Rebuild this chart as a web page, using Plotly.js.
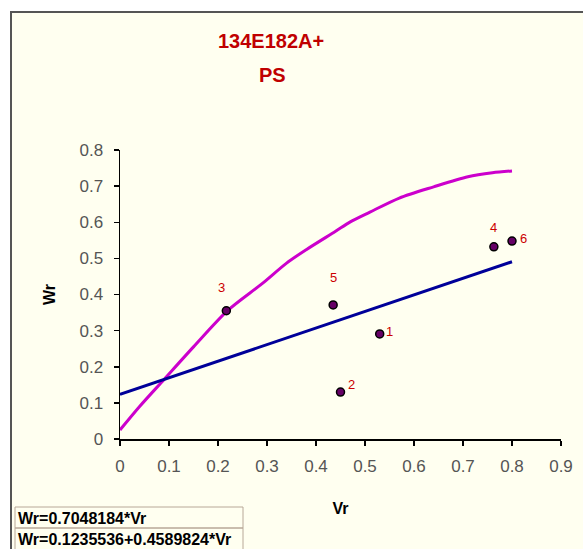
<!DOCTYPE html>
<html>
<head>
<meta charset="utf-8">
<script src="https://cdn.plot.ly/plotly-3.0.1.min.js"></script>
<style>
html,body{margin:0;padding:0;background:#FFFFF0;overflow:hidden;scrollbar-width:none;}
::-webkit-scrollbar{display:none;width:0;height:0;}
#chart{position:absolute;left:0;top:0;width:583px;height:549px;overflow:hidden;}
</style>
</head>
<body>
<div id="chart"></div>
<script>
// Observed points
var pointVr = [0.53, 0.45, 0.217, 0.763, 0.435, 0.80];
var pointWr = [0.291, 0.13, 0.355, 0.532, 0.371, 0.548];
var pointLabels = ["1", "2", "3", "4", "5", "6"];

// Magenta curve
var curveVr = [0, 0.04, 0.09, 0.15, 0.22, 0.29, 0.34, 0.38, 0.44, 0.47, 0.51, 0.57, 0.64, 0.71, 0.76, 0.80];
var curveWr = [0.025, 0.09, 0.165, 0.255, 0.356, 0.43, 0.487, 0.524, 0.575, 0.601, 0.628, 0.667, 0.698, 0.726, 0.737, 0.742];

// Linear fit: Wr = 0.1235536 + 0.4589824*Vr
var fitIntercept = 0.1235536;
var fitSlope = 0.4589824;
var fitVr = [0, 0.8];
var fitWr = fitVr.map(function (v) { return fitIntercept + fitSlope * v; });

var titleLines = ["134E182A+", "PS"];
var equationLines = ["Wr=0.7048184*Vr", "Wr=0.1235536+0.4589824*Vr"];
var xTicks = [0, 0.1, 0.2, 0.3, 0.4, 0.5, 0.6, 0.7, 0.8, 0.9];
var yTicks = [0, 0.1, 0.2, 0.3, 0.4, 0.5, 0.6, 0.7, 0.8];

// label offsets in px (style)
var labelDx = [10, 11, -5, 0, 0, 11];
var labelDy = [2, 8, 23, 19, 27, 3];

var W = 583, H = 549;
var mL = 120, mR = 22, mT = 150, mB = 110;
var pw = W - mL - mR, ph = H - mT - mB;
function px(x) { return (x - mL) / pw; }
function py(y) { return (H - mB - y) / ph; }

var traces = [
  {x: curveVr, y: curveWr, mode: 'lines', line: {color: '#CC00CC', width: 3, shape: 'spline', smoothing: 0.8}, hoverinfo: 'skip', cliponaxis: false},
  {x: fitVr, y: fitWr, mode: 'lines', line: {color: '#000099', width: 3}, hoverinfo: 'skip', cliponaxis: false},
  {x: pointVr, y: pointWr, mode: 'markers', marker: {color: '#660066', size: 8, line: {color: '#000000', width: 1.5}}, cliponaxis: false}
];

var annotations = [];
for (var i = 0; i < pointLabels.length; i++) {
  annotations.push({x: pointVr[i], y: pointWr[i], xref: 'x', yref: 'y', text: pointLabels[i], showarrow: false,
    xshift: labelDx[i], yshift: labelDy[i], font: {family: 'Arial, Liberation Sans', size: 13, color: '#CC0000'}});
}
annotations.push({xref: 'paper', yref: 'paper', x: px(271), y: py(41), text: '<b>' + titleLines[0] + '</b>', showarrow: false,
  xanchor: 'center', yanchor: 'middle', font: {family: 'Arial, Liberation Sans', size: 20, color: '#C00000'}});
annotations.push({xref: 'paper', yref: 'paper', x: px(272), y: py(75), text: '<b>' + titleLines[1] + '</b>', showarrow: false,
  xanchor: 'center', yanchor: 'middle', font: {family: 'Arial, Liberation Sans', size: 20, color: '#C00000'}});
annotations.push({xref: 'paper', yref: 'paper', x: px(16), y: py(518), text: '<b>' + equationLines[0] + '</b>', showarrow: false,
  xanchor: 'left', yanchor: 'middle', font: {family: 'Arial, Liberation Sans', size: 16, color: '#000'}});
annotations.push({xref: 'paper', yref: 'paper', x: px(16), y: py(539), text: '<b>' + equationLines[1] + '</b>', showarrow: false,
  xanchor: 'left', yanchor: 'middle', font: {family: 'Arial, Liberation Sans', size: 16, color: '#000'}});

var shapes = [
  // white strips outside the chart frame
  {type: 'rect', xref: 'paper', yref: 'paper', x0: px(0), x1: px(W), y0: py(11), y1: py(0),
    fillcolor: '#FFFFFF', line: {width: 0}, layer: 'below'},
  {type: 'rect', xref: 'paper', yref: 'paper', x0: px(0), x1: px(10), y0: py(H), y1: py(0),
    fillcolor: '#FFFFFF', line: {width: 0}, layer: 'below'},
  // frame lines (top and left)
  {type: 'line', xref: 'paper', yref: 'paper', x0: px(10), x1: px(W), y0: py(12), y1: py(12),
    line: {color: '#555555', width: 2}, layer: 'below'},
  {type: 'line', xref: 'paper', yref: 'paper', x0: px(11), x1: px(11), y0: py(H), y1: py(11),
    line: {color: '#555555', width: 2}, layer: 'below'},
  // equation box
  {type: 'rect', xref: 'paper', yref: 'paper', x0: px(15), x1: px(243), y0: py(528), y1: py(507),
    fillcolor: 'rgba(0,0,0,0)', line: {color: '#B8A898', width: 1}, layer: 'above'},
  {type: 'rect', xref: 'paper', yref: 'paper', x0: px(15), x1: px(243), y0: py(550), y1: py(528),
    fillcolor: 'rgba(0,0,0,0)', line: {color: '#B8A898', width: 1}, layer: 'above'}
];

var layout = {
  width: W, height: H,
  margin: {l: mL, r: mR, t: mT, b: mB, pad: 0},
  paper_bgcolor: '#FFFFF0',
  plot_bgcolor: 'rgba(0,0,0,0)',
  showlegend: false,
  xaxis: {range: [0, 0.9], tickvals: xTicks, ticktext: xTicks.map(String), showgrid: false, zeroline: false,
    showline: true, linecolor: '#000', linewidth: 1.5, ticks: 'outside', ticklen: 5, tickcolor: '#000', tickwidth: 1.5,
    ticklabelstandoff: 6,
    tickfont: {family: 'Arial, Liberation Sans', size: 17, color: '#555'},
    title: {text: '<b>Vr</b>', font: {family: 'Arial, Liberation Sans', size: 16, color: '#000'}, standoff: 28}},
  yaxis: {range: [0, 0.8], tickvals: yTicks, ticktext: yTicks.map(String), showgrid: false, zeroline: false,
    showline: true, linecolor: '#000', linewidth: 1.5, ticks: 'outside', ticklen: 5, tickcolor: '#000', tickwidth: 1.5,
    ticklabelstandoff: 7,
    tickfont: {family: 'Arial, Liberation Sans', size: 17, color: '#555'},
    title: {text: '<b>Wr</b>', font: {family: 'Arial, Liberation Sans', size: 16, color: '#000'}, standoff: 20}},
  shapes: shapes,
  annotations: annotations
};

Plotly.newPlot('chart', traces, layout, {displayModeBar: false, staticPlot: true});
</script>
</body>
</html>
